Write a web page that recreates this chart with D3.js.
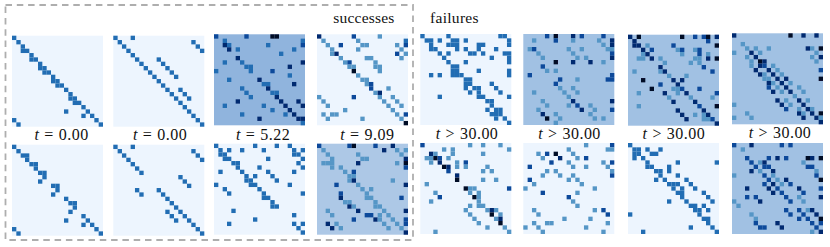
<!DOCTYPE html>
<html>
<head>
<meta charset="utf-8">
<script src="https://cdnjs.cloudflare.com/ajax/libs/d3/7.8.5/d3.min.js"></script>
<style>
  body { margin: 0; background: #fff; }
  svg { display: block; }
  text { font-family: "Liberation Serif", serif; fill: #111; }
</style>
</head>
<body>
<div id="chart"></div>
<script>
// each panel: one string per matrix row, "col+level" for the non background cells
var topS1 = ["0b","1b","2b","2b 3b","4b","4b 5b","6b","6b 7b","7b 8b","9b","9b 10b","10b 11b","12b","13b","13b 14b","14b 15b","16b","12b 17b","16b 18b","0b 19b","1b 20b"];
var topS2 = ["0b 4b","1b 18b","2b 19b","3b 20b","4b","5b 10b","6b 11b","7b 12b","8b 13b","9b 14b","10b","11b","12b 15b","13b 16b","14b 17b","15b","16b","17b","18b","19b","20b"];
var topS3 = ["0c 7c 13e 14e","2b 20b","2d 3b 12b 20c","3d 5b 18b","15b","5d","2b 6b 20d","7b 8b 17d","0b 8b 13c","17b","3b 10d","11b 12b 18d","6b 12d","7b 13b 14b","8b 14d","5d 15d 19d","2b 11b 16d 20d","13b 17d","6b 16b 18d","10d 19d 20d","20b"];
var topS4 = ["0d 8c 14a","1a 9a 20b","2a 5c 10a 11a 18a 20c","3a 9a 19a","3a 4d 18c 20a","5a 11a 12a 19a","6a 7c 13a","7a 8a 13a 14a","8e 14a","9a","10a 11a","11a 12c","12c 16a","13a 14d","0a 8c 14a 17a","1a 15a 18a","2a 16a 19a","6a 17a","1a 3a 4a 18a 20c","2a 10a 19a","20e"];
var topF1 = ["0b 6b 18b 19b","1b 2b 4b 7b 8b 10b 20b","2b 6b 7b 8b 13b 14b 20b","2b 3b 8b 10b 13b 17b","4b 6b 11b 12b 14b 19b 20b","5b 16b 20b","6b 10b 20b","7b 8b","7b 8b 13b 20b","2b 4b 7b 8b 9b 20b","10b 11b","10b 11b 16b","10b 12b 13b 17b","11b 13b 18b","4b 13b 14b 20b","15b 16b","16b","15b 17b 18b","16b 17b 18b","17b 19b","20b"];
var topF2 = ["5c 7e 11d 13c 18c","2a 7c 11a 17a 20d","18a 20d","1a 2c 10a 13a 19a 20a","3a 11a 20c","4a 12a 14a 20d","7e 11d 15d 18a","4c","5a 7a","1c 20c","8c 12a 19c 20c","7c","8a 11a","2a 9a 12a","10a","4a 11d 20d","5a 10a 12c 15a","3a 13d 16a 20c","4d 7a 15a","5e 8a 16a 18a","7a"];
var topF3 = ["0d 2e 12e 15c 17c 18e 20d","1d 18c","1d 2d 4a 10c 20e","3d 5c 11a 12c 15a 16c","3a 4d 12a 16c 18a","2a 3a 5d 7a 15a 16a 18d 20e","8a 14a 16a","7d 17c","1a 7a 8d 19c","9a 13a","3e 10d 12d","7c 11d","5e 10a 11a 12c 16c","2a 8d 11a 13d 20c","9a 14a 19a","10d 15d","2a 16c 20e","11d 17d","12d 15a 17a 18d","13d 17a 18a 19c","20d"];
var topF4 = ["0d 13e 16d 19d","","2a","3a 5a 8a 17d 18a 20e","0a 4d 6a 19a","3a 5d 18a 20d","4a 6e 7d 19a","4a 6d 7c 9a","5d 8d 10a 20c","6d 7a 9d 11a","7a 8a 10d 12d 20e","8d 9a 11d 13a","8c 10a 12d 15a","9d 11a 13d 16a","14a","10d 12a 15d 17a","0a 11d 13a 16d","12c 15a 17d 18a","3a 15d 16a 18d 20e","0a 4a 16d 19d 20a","20d"];

var botS1 = ["0b","1b","2b 3b","3b","4b 5b","5b","6b 7b","7b","6b","9b 10b","10b","9b","12b","13b 14b","14b","13b","16b","12b 17b","16b 18b","0b 19b","1b 20b"];
var botS2 = ["0b 4b","1b 18b","2b 19b","3b 20b","4b","5b","6b","15b","16b","17b","5b 10b","6b 11b","12b","13b","14b","12b 15b","13b 16b","14b 17b","18b","19b","20b"];
var botS3 = ["0b 9b 14b 17b","1b 3b 6b 11b 18b 20b","1b 2b 18b 19b","2b 3b 12b 20b","4b 5b 19b","5b 10b 20b","1b 6b 12b 18b","7b 9b 13b","7b 8b 14b","0b 8b 9b 17b","2b 10b","3b 11b 20b","11b 12b","13b","13b 14b","4b","18b","9b","3b 18b 20b","19b","20b"];
var botS4 = ["0c 7c 8e 13c 17d","1a 15d 18a 20a","2a 9a 19a","3a 10a 11a 20d","1a 2a 3a 9d 18a 20e","3a 5a 20c","6a 8c","7a 8a","7a 8d 17a","4c 9a 20d","10a 12a","5c 11a","5d 11a 12a 19c","6a 7a 13a","7d 8a 13a 14a","2a 9d 15a 20d","3a 11c 12c 14a 16a","8c 13d 14a 17a 20c","2d 4a 15a 18a 20c","3d 5a 16a 19a","20d"];
var botF1 = ["0c 11a 14a 18a","5a 7a 20a","2d 3a 7a 14a","1a 2a 3e 4c 6a","2a 4d 8a 10c","5e 6d 8a 10a 15a","6c 14a 16a","8d","8e 14a 17a","1a","10e 11a 12a 20c","3a 11a 13a","4c 12e 13a","2a 13a","11a 13a 14a","10a 15a 16d 17a","11a 16e 18a","12a 17a 18d","13a 18e","15a 19a","3a 20a"];
var botF2 = ["14a 20c","10a 19a 20a","3a 5c 7e 11a","4a 8d 12a 14c","6c 10a 18a 20c","1c 11a 14a 19a","5a 7a 20a","4a 8a 11a 20c","1c 10a 12a","2a 13a","0a 16a","4c 12a","10c","11a","12a","2a 16a 18c","3a 19c","9a 15a","2a 5a 6a 19a","0a 3a 14a","4a 18a"];
var botF3 = ["0b","1b 2b 4b 7b","1b 2b 5b 6b","1b 3b","4b 11b 20b","4b 5b 9b","6b 7b 9b","7b 11b","6b 8b 13b","9b 10b 11b 14b","10b 12b 15b","11b 12b 17b","12b 18b","9b 13b 19b","14b 15b 17b","15b 16b 18b","0b 16b","17b 18b","18b","14b 19b","3b 20b"];
var botF4 = ["0c 4d 11c 13c","2a","","3c 8c 10d 12c 17e 18d 20e","4c 6a 7d 16a","5c 7c 8c 17c 18c","4d 6a 9d 19a","0a 7c 9a 19c","8c 10a 12d 20e","7c 9d 11a 13c","3d 8d 10c 15d 20c","9d 11c 16c","3c 5c 12c 15a 20d","0a 6d 13c 16a","1a","12c 15c 17a 18d","4a 13c 16c 19d","5a 15c 17c 20e","5c 10d 18c 20c","6c 7c 11d 19c","18a 20d"];

var topPanels = [topS1, topS2, topS3, topS4, topF1, topF2, topF3, topF4];
var botPanels = [botS1, botS2, botS3, botS4, botF1, botF2, botF3, botF4];

// background level of each panel
var topBg = ["l", "l", "o", "l", "l", "m", "m", "m"];
var botBg = ["l", "l", "l", "n", "l", "l", "l", "m"];

var timeLabels = ["= 0.00", "= 0.00", "= 5.22", "= 9.09", "> 30.00", "> 30.00", "> 30.00", "> 30.00"];

var levelKeys = ["l", "n", "m", "o", "a", "b", "c", "d", "e"];
var levelColors = ["#edf5fe", "#adc8e6", "#a1c1e3", "#90b4dd", "#5596c6", "#206db3", "#08489a", "#062a70", "#030c28"];

var width = 830, height = 247, n = 21, cellExtent = 91;

// panel origins in the figure, they are not evenly spaced
var panelX = [12, 113.3, 214, 317, 420.3, 523.3, 628, 732];
var topY = [35.7, 35.7, 34.3, 34.3, 34, 34, 34.7, 33.3];
var botY = [144.7, 144.7, 143.7, 143.7, 143, 143, 143, 143];
var labelX = [61.5, 160, 263, 367.3, 467, 569.5, 673.8, 780];
var labelY = [140, 140, 140, 140, 139, 139, 139, 138];

var svg = d3.select("#chart").append("svg")
            .attr("width", width)
            .attr("height", height);

var defs = svg.append("defs");
defs.append("filter")
    .attr("id", "soft")
    .append("feGaussianBlur")
    .attr("stdDeviation", 0.25);

var color = d3.scaleOrdinal()
              .domain(levelKeys)
              .range(levelColors);

var pos = d3.scaleBand()
            .domain(d3.range(n))
            .range([0, cellExtent]);

function parseRows(rows) {
  var cells = [];
  rows.forEach((row, r) => {
    if (row == "") return;
    row.split(" ").forEach(s => {
      cells.push({ r: r, c: +s.slice(0, -1), level: s.slice(-1) });
    });
  });
  return cells;
}

function drawPanel(rows, bg, x, y) {
  var g = svg.append("g")
             .attr("transform", "translate(" + x + "," + y + ")")
             .attr("filter", "url(#soft)");

  g.append("rect")
   .attr("width", cellExtent)
   .attr("height", cellExtent)
   .attr("fill", color(bg));

  g.selectAll(".cell")
    .data(parseRows(rows))
    .enter().append("rect")
    .attr("class", "cell")
    .attr("x", d => pos(d.c))
    .attr("y", d => pos(d.r))
    .attr("width", pos.bandwidth())
    .attr("height", pos.bandwidth())
    .attr("fill", d => color(d.level));
}

topPanels.forEach((rows, i) => drawPanel(rows, topBg[i], panelX[i], topY[i]));
botPanels.forEach((rows, i) => drawPanel(rows, botBg[i], panelX[i], botY[i]));

// time labels sit between the two rows
timeLabels.forEach((lab, i) => {
  var t = svg.append("text")
             .attr("x", labelX[i])
             .attr("y", labelY[i])
             .attr("text-anchor", "middle")
             .attr("font-size", 16)
             .attr("letter-spacing", 0.45);
  t.append("tspan").attr("font-style", "italic").text("t");
  t.append("tspan").attr("dx", 5).text(lab.split(" ")[0]);
  t.append("tspan").attr("dx", 5).text(lab.split(" ")[1]);
});

svg.append("text")
   .attr("x", 333.3)
   .attr("y", 22.7)
   .attr("font-size", 15.5)
   .attr("letter-spacing", 0.2)
   .text("successes");

svg.append("text")
   .attr("x", 430)
   .attr("y", 23.3)
   .attr("font-size", 15.5)
   .attr("letter-spacing", 0.3)
   .text("failures");

svg.append("rect")
   .attr("x", 5.5)
   .attr("y", 5)
   .attr("width", 407.5)
   .attr("height", 235)
   .attr("fill", "none")
   .attr("stroke", "#aeaeae")
   .attr("stroke-width", 1.8)
   .attr("stroke-dasharray", "6.5 4.8");
</script>
</body>
</html>
